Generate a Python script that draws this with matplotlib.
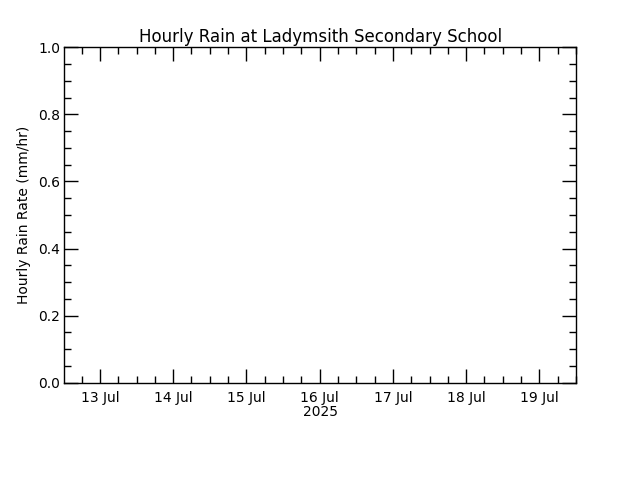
import matplotlib
matplotlib.use('Agg')
import matplotlib.pyplot as plt
import matplotlib.dates as mdates
import numpy as np
from datetime import datetime

# no rain recorded this week: empty series
times = []
rain_rate = []

x_start = datetime(2025, 7, 12, 12, 20)
x_end = datetime(2025, 7, 19, 12, 0)
y_min, y_max = 0.0, 1.0
title = 'Hourly Rain at Ladymsith Secondary School'
ylabel = 'Hourly Rain Rate (mm/hr)'
year_label = '2025'

fig = plt.figure(figsize=(6.4, 4.8), dpi=100)
ax = fig.add_axes([0.1005, 0.2027, 0.7995, 0.6988])

ax.plot(times, rain_rate, color='black', linewidth=1)

ax.set_xlim(x_start, x_end)
ax.set_ylim(y_min, y_max)

ax.xaxis.set_major_locator(mdates.DayLocator())
ax.xaxis.set_minor_locator(mdates.HourLocator(byhour=[0, 6, 12, 18]))
ax.xaxis.set_major_formatter(mdates.DateFormatter('%d %b'))
ax.yaxis.set_major_locator(plt.MultipleLocator(0.2))
ax.yaxis.set_minor_locator(plt.MultipleLocator(0.05))
ax.yaxis.set_major_formatter(plt.FormatStrFormatter('%.1f'))

ax.tick_params(which='both', direction='in', top=True, right=True,
               labelsize=10, width=1, color='black')
ax.tick_params(which='major', length=10)
ax.tick_params(which='minor', length=5)
ax.tick_params(axis='x', which='major', pad=6)
ax.tick_params(axis='y', which='major', pad=3)

for s in ax.spines.values():
    s.set_linewidth(1)

ax.set_title(title, fontsize=12, pad=4)
ax.set_ylabel(ylabel, fontsize=10, labelpad=5)
ax.set_xlabel(year_label, fontsize=10, labelpad=0)

fig.savefig('out.png', dpi=100)
